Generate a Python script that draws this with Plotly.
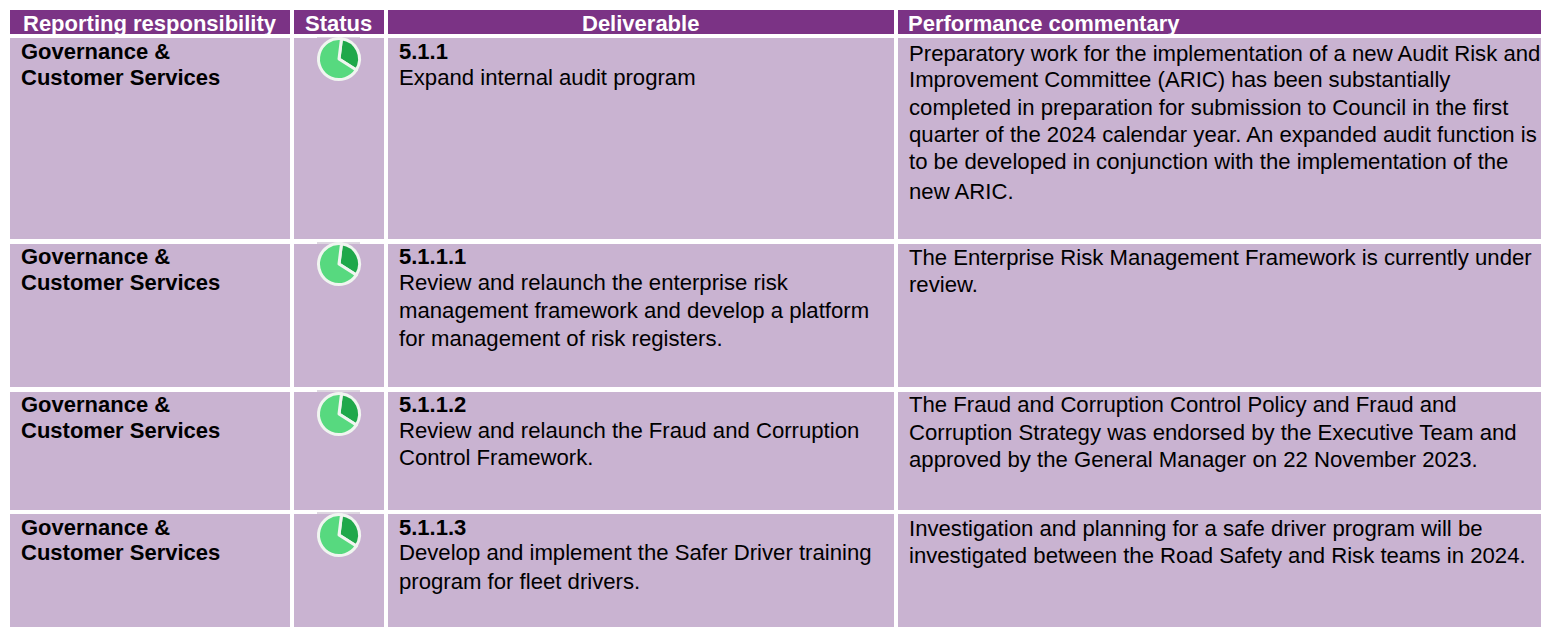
import plotly.graph_objects as go

W, H = 1541, 627
headers = ["Reporting responsibility", "Status", "Deliverable", "Performance commentary"]
owners = ["Governance &<br>Customer Services"] * 4
codes = ["5.1.1", "5.1.1.1", "5.1.1.2", "5.1.1.3"]
deliverables = [
    ["Expand internal audit program"],
    ["Review and relaunch the enterprise risk",
     "management framework and develop a platform",
     "for management of risk registers."],
    ["Review and relaunch the Fraud and Corruption", "Control Framework."],
    ["Develop and implement the Safer Driver training", "program for fleet drivers."],
]
commentary = [
    ["Preparatory work for the implementation of a new Audit Risk and",
     "Improvement Committee (ARIC) has been substantially",
     "completed in preparation for submission to Council in the first",
     "quarter of the 2024 calendar year. An expanded audit function is",
     "to be developed in conjunction with the implementation of the",
     "new ARIC."],
    ["The Enterprise Risk Management Framework is currently under", "review."],
    ["The Fraud and Corruption Control Policy and Fraud and",
     "Corruption Strategy was endorsed by the Executive Team and",
     "approved by the General Manager on 22 November 2023."],
    ["Investigation and planning for a safe driver program will be",
     "investigated between the Road Safety and Risk teams in 2024."],
]
status_done = [32, 32, 32, 32]
status_left = [68, 68, 68, 68]

# layout geometry
cols = [(10, 290), (294, 384), (388, 894), (898, 1541)]
header_band = (10, 34)
rows = [(38, 239), (244, 387), (392, 510), (514, 627)]
pie_cy = [59, 264, 414, 535]
strip_y = [(37, 38), (242, 244), (390, 392), (512, 514)]
pie_cx, pie_r = 339, 20.5
owner_y = [[51, 77], [256, 282], [404, 430], [527, 552]]
deliv_y = [[51, 77], [256, 282, 310, 338], [404, 430, 457], [527, 552, 581]]
comm_y = [[53, 79, 107, 134, 161, 191], [257, 284], [404, 432, 459], [528, 555]]
HDR, CELL = "#7B3385", "#C9B3D1"
FONT = "Liberation Sans"

shapes, ann = [], []
def rect(x0, x1, y0, y1, c):
    shapes.append(dict(type="rect", xref="x", yref="y", x0=x0, x1=x1, y0=y0, y1=y1,
                       fillcolor=c, line_width=0, layer="below"))
def text(x, y, s, size=22, bold=False, color="#000000", anchor="left"):
    ann.append(dict(xref="x", yref="y", x=x, y=y, text=f"<b>{s}</b>" if bold else s, showarrow=False,
                    xanchor=anchor, yanchor="middle", align=anchor, borderpad=0, borderwidth=0,
                    font=dict(family=FONT, size=size, color=color)))

for (a, b) in cols:
    rect(a, b, *header_band, HDR)
    for (r0, r1) in rows:
        rect(a, b, r0, r1, CELL)
for (s0, s1) in strip_y:
    rect(317, 360, s0, s1, "#DDD6E0")

text(150, 23, headers[0], bold=True, color="white", anchor="center")
text(338.5, 23, headers[1], bold=True, color="white", anchor="center")
text(640, 23, headers[2], bold=True, color="white", anchor="center")
text(908, 23, headers[3], bold=True, color="white")

for i in range(4):
    for y, s in zip(owner_y[i], owners[i].split("<br>")):
        text(21, y, s, bold=True)
    text(398.5, deliv_y[i][0], codes[i], bold=True)
    for y, s in zip(deliv_y[i][1:], deliverables[i]):
        text(398.5, y, s, size=22.15)
    for y, s in zip(comm_y[i], commentary[i]):
        text(909, y, s, size=22.15)

fig = go.Figure()
fig.add_trace(go.Scatter(x=[0], y=[0], mode="markers", marker=dict(opacity=0), showlegend=False, hoverinfo="skip"))
for i in range(4):
    cy = pie_cy[i]
    fig.add_trace(go.Pie(
        values=[status_done[i], status_left[i]], sort=False, direction="clockwise", rotation=7,
        textinfo="none", showlegend=False, hole=0,
        marker=dict(colors=["#1FA84A", "#57D97F"], line=dict(color="#F0F5F0", width=3)),
        domain=dict(x=[(pie_cx - pie_r) / W, (pie_cx + pie_r) / W],
                    y=[1 - (cy + pie_r) / H, 1 - (cy - pie_r) / H]),
    ))

fig.update_layout(
    width=W, height=H, autosize=False, margin=dict(l=0, r=0, t=0, b=0),
    paper_bgcolor="white", plot_bgcolor="white", showlegend=False,
    xaxis=dict(range=[0, W], visible=False, fixedrange=True),
    yaxis=dict(range=[H, 0], visible=False, fixedrange=True),
    shapes=shapes, annotations=ann,
)
fig.write_html("out.html", config=dict(displayModeBar=False),
               post_script="document.body.style.margin='0';document.body.style.overflow='hidden';")
